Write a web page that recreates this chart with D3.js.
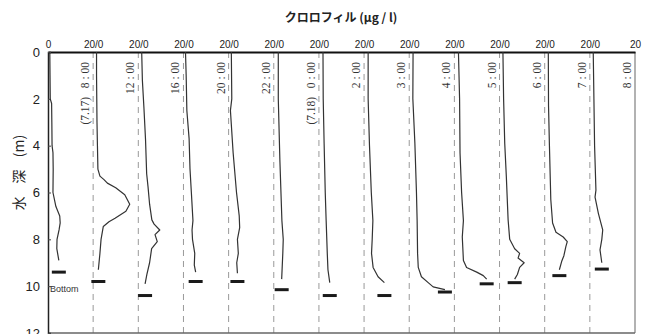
<!DOCTYPE html>
<html>
<head>
<meta charset="utf-8">
<script src="https://cdn.jsdelivr.net/npm/d3@7"></script>
<style>
  html, body { margin: 0; padding: 0; background: #fff; }
  svg { display: block; }
</style>
</head>
<body>
<div id="chart"></div>
<script>
// chlorophyll profiles, [depth (m), value (ug/l)]
const p0800 = [[0,0.8],[1,0.9],[2,1.0],[2.2,1.6],[3,1.7],[4,1.8],[4.3,2.2],[5,2.3],[6,2.2],[6.6,3.5],[7.0,5.2],[7.3,5.4],[7.6,4.9],[8.0,4.0],[8.4,3.9],[8.9,4.8]];
const p1200 = [[0,1.5],[1,1.5],[2,1.6],[3,1.7],[4,1.9],[5,2.1],[5.3,3.0],[5.45,4.8],[5.6,6.3],[5.8,10.0],[6.1,14.0],[6.5,16.2],[6.8,14.5],[7.1,9.7],[7.25,7.0],[7.45,4.5],[8.0,3.5],[8.6,3.0],[9.3,2.3]];
const p1600 = [[0,1.5],[1.2,1.8],[2.4,2.5],[3.75,3.2],[5.2,3.7],[5.75,4.3],[6.5,5.0],[7.17,6.0],[7.35,7.0],[7.6,9.5],[7.8,7.4],[8.1,8.4],[8.4,5.9],[9.0,5.0],[9.5,3.8],[9.9,3.0]];
const p2000 = [[0,0.9],[1,1.2],[2.5,1.5],[3.7,2.5],[5,2.9],[6,3.5],[7.2,4.2],[7.6,3.8],[8,4.0],[8.6,5.0],[9.1,4.8],[9.4,5.4]];
const p2200 = [[0,1.2],[2,1.4],[2.5,0.8],[4.3,2.0],[6,3.5],[7,4.7],[7.5,4.9],[8,3.9],[8.6,4.3],[9,3.6],[9.45,3.9]];
const p0000 = [[0,2.0],[2,2.0],[4.6,2.7],[7.2,3.6],[8,4.2],[8.6,4.0],[9.7,3.5]];
const p0200 = [[0,1.8],[2,1.9],[3.9,2.3],[6,2.8],[7.2,3.2],[8.6,3.7],[9.3,4.0],[9.85,4.8]];
const p0300 = [[0,1.8],[2,1.8],[4,2.4],[6,3.2],[7.2,3.9],[8,3.6],[8.6,3.3],[9.2,4.0],[9.6,6.2],[9.85,9.0]];
const p0400 = [[0,1.7],[2,1.6],[3.9,2.5],[6,3.2],[7.2,3.5],[8.6,3.7],[9.2,4.0],[9.6,5.4],[9.85,8.4],[10.03,10.6],[10.15,15.8]];
const p0500 = [[0,1.8],[2,2.3],[4.3,2.5],[6,3.2],[7.2,4.0],[7.9,3.5],[8.9,4.0],[9.2,5.4],[9.4,9.9],[9.55,12.8],[9.7,14.3]];
const p0600 = [[0,1.5],[2,1.8],[3.9,2.3],[5.3,3.0],[7.17,3.8],[8,4.5],[8.4,6.7],[8.6,8.9],[8.8,8.2],[9.0,10.9],[9.2,8.9],[9.5,7.9],[9.7,6.7]];
const p0700 = [[0,1.6],[2.3,1.7],[4,2.1],[5.9,2.6],[6.3,2.7],[7.3,3.5],[7.7,5.0],[7.9,8.2],[8.1,10.0],[8.3,9.4],[8.7,8.5],[8.95,7.5],[9.3,6.5]];
const p0800b = [[0,1.5],[2,1.8],[4,2.1],[5.9,2.7],[6.2,2.3],[6.9,3.8],[7.6,5.7],[8.0,5.3],[8.45,4.5],[9.0,5.3]];

const profiles = [p0800, p1200, p1600, p2000, p2200, p0000, p0200, p0300, p0400, p0500, p0600, p0700, p0800b];
const timeLabels = ['(7.17)\u00a0\u00a0\u00a08 : 00','12 : 00','16 : 00','20 : 00','22 : 00','(7.18)\u00a0\u00a0\u00a00 : 00',
  '2 : 00','3 : 00','4 : 00','5 : 00','6 : 00','7 : 00','8 : 00'];
const bottomDepths = [9.4, 9.8, 10.4, 9.8, 9.8, 10.15, 10.4, 10.4, 10.25, 9.9, 9.85, 9.55, 9.27];
const panelMax = 20;
const depthTicks = [0,2,4,6,8,10,12];

const W = 648, H = 334;
const svg = d3.select('#chart').append('svg').attr('width', W).attr('height', H);

const nPanel = profiles.length;
const x = d3.scaleLinear().domain([0, nPanel * panelMax]).range([48, 635]);
const y = d3.scaleLinear().domain([0, 12]).range([52, 333]);
const sansFont = '"Liberation Sans", Arial, sans-serif';

// dashed panel separators
const sepG = svg.append('g');
d3.range(1, nPanel).forEach(i => {
  sepG.append('line')
    .attr('x1', x(i*panelMax)).attr('x2', x(i*panelMax))
    .attr('y1', y(0)).attr('y2', y(12))
    .attr('stroke', '#999').attr('stroke-width', 1).attr('stroke-dasharray', '6 5');
});

// frame
svg.append('line').attr('x1', x.range()[1]).attr('x2', x.range()[1]).attr('y1', y(0)).attr('y2', y(12))
  .attr('stroke', '#999').attr('stroke-width', 1.5);
svg.append('line').attr('x1', x.range()[0]).attr('x2', x.range()[1]).attr('y1', y(12)).attr('y2', y(12))
  .attr('stroke', '#666').attr('stroke-width', 1.5);

// top axis
const topTicks = d3.range(0, nPanel*panelMax + 1, panelMax);
const xAxis = d3.axisTop(x).tickValues(topTicks).tickSize(0).tickPadding(4)
  .tickFormat(v => v === 0 ? '0' : (v === nPanel*panelMax ? '20' : '20/0'));
const xAxisG = svg.append('g').attr('transform', `translate(0,${y(0)})`).call(xAxis);
xAxisG.select('.domain').attr('stroke', '#111').attr('stroke-width', 2);
xAxisG.selectAll('text').attr('font-family', sansFont).attr('font-size', 10).attr('fill', '#222');

// left axis
const yAxis = d3.axisLeft(y).tickValues(depthTicks).tickSize(-3).tickPadding(8);
const yAxisG = svg.append('g').attr('transform', `translate(${x(0)},0)`).call(yAxis);
yAxisG.select('.domain').attr('stroke', '#222').attr('stroke-width', 1.5);
yAxisG.selectAll('.tick line').attr('stroke', '#444');
yAxisG.selectAll('text').attr('font-family', sansFont).attr('font-size', 13).attr('fill', '#222');

// profiles
const line = d3.line().x(d => d[0]).y(d => d[1]);
profiles.forEach((prof, i) => {
  const pts = prof.map(d => [x(i*panelMax + d[1]), y(d[0])]);
  svg.append('path').attr('d', line(pts)).attr('fill', 'none')
    .attr('stroke', '#333').attr('stroke-width', 1.2).attr('stroke-linejoin', 'round');
  const last = prof[prof.length-1][1];
  svg.append('line')
    .attr('x1', x(i*panelMax + last - 3.1)).attr('x2', x(i*panelMax + last + 3.1))
    .attr('y1', y(bottomDepths[i])).attr('y2', y(bottomDepths[i]))
    .attr('stroke', '#1a1a1a').attr('stroke-width', 3);
  svg.append('text')
    .attr('transform', `translate(${x((i+1)*panelMax) - 8},62) rotate(-90)`)
    .attr('text-anchor', 'end').attr('dy', '0.35em')
    .attr('font-family', '"Liberation Serif", "Times New Roman", serif')
    .attr('font-size', 11.5).attr('fill', '#333')
    .text(timeLabels[i]);
});

svg.append('text').attr('x', x(0.9)).attr('y', y(10.25))
  .attr('font-family', sansFont).attr('font-size', 9).attr('fill', '#333')
  .text('Bottom');

// titles
svg.append('text').attr('x', 341).attr('y', 22).attr('text-anchor', 'middle')
  .attr('font-family', '"Noto Sans CJK JP", sans-serif').attr('font-size', 12).attr('font-weight', 'bold')
  .attr('fill', '#222')
  .text('クロロフィル (μg / l)');

svg.append('text')
  .attr('transform', `translate(19,${y(5.15)}) rotate(-90)`)
  .attr('text-anchor', 'middle').attr('dy', '0.35em')
  .attr('font-family', '"Noto Sans CJK JP", sans-serif').attr('font-size', 14).attr('fill', '#222')
  .text('水\u00a0\u00a0\u00a0\u00a0深\u00a0\u00a0\u00a0\u00a0(m)');
</script>
</body>
</html>
